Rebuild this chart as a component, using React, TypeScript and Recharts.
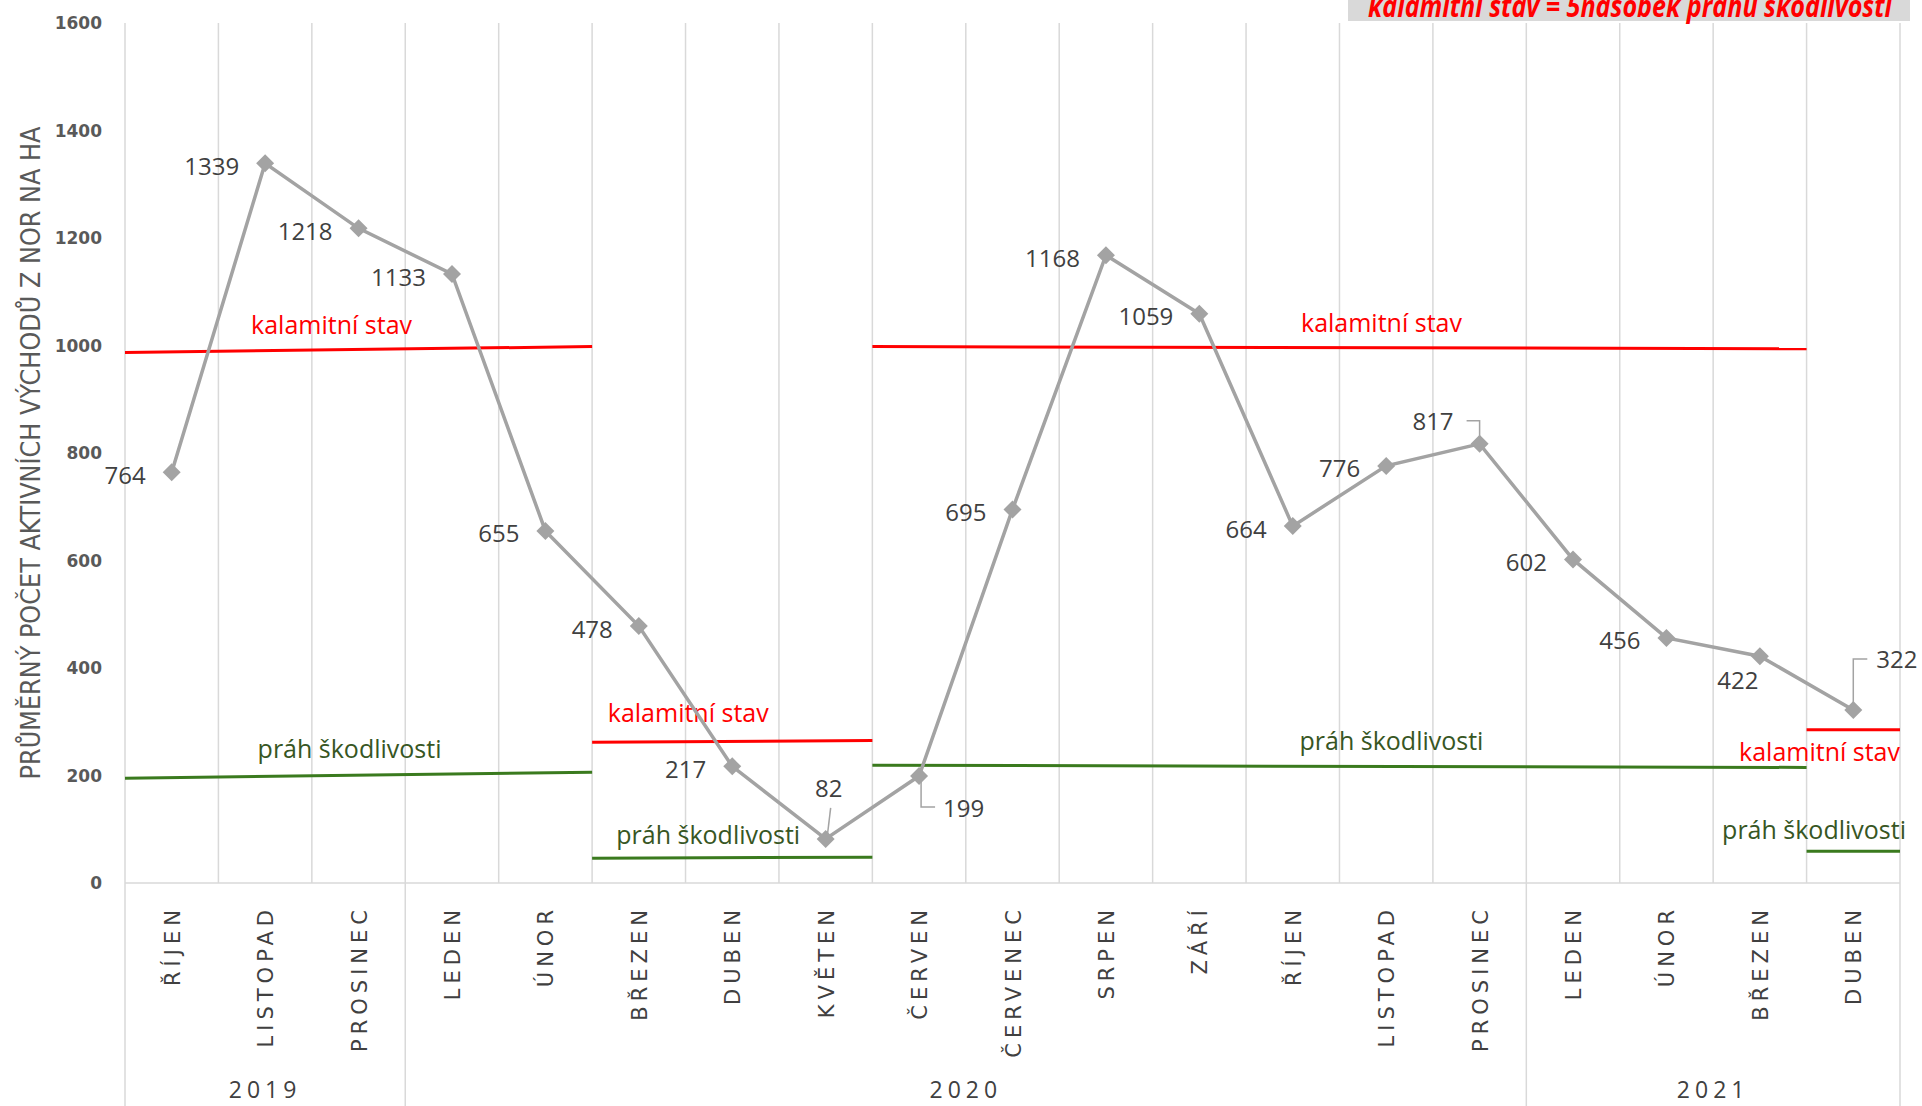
import React from "react";
import { LineChart, Line, XAxis, YAxis, ReferenceLine, LabelList } from "recharts";

// měsíce na ose x (říjen 2019 – duben 2021)
const months = [
    "ŘÍJEN", "LISTOPAD", "PROSINEC",
    "LEDEN", "ÚNOR", "BŘEZEN", "DUBEN", "KVĚTEN", "ČERVEN", "ČERVENEC", "SRPEN", "ZÁŘÍ", "ŘÍJEN", "LISTOPAD", "PROSINEC",
    "LEDEN", "ÚNOR", "BŘEZEN", "DUBEN",
];

// průměrný počet aktivních východů z nor na ha
const nory = [764, 1339, 1218, 1133, 655, 478, 217, 82, 199, 695, 1168, 1059, 664, 776, 817, 602, 456, 422, 322];

const years = ["2019", "2020", "2021"];
const yearSpans = [[0, 3], [3, 15], [15, 19]];

const yTicks = [0, 200, 400, 600, 800, 1000, 1200, 1400, 1600];

// úseky prahových čar (index měsíce od–do)
const thresholdSpans = [[0, 5], [5, 8], [8, 18], [18, 19]];
const kalamitaFrom = [987, 262, 998, 285];
const kalamitaTo = [998, 265, 994, 285];
const prahFrom = [195, 46, 219, 59];
const prahTo = [206, 48, 215, 59];

// každý měsíc sedí uprostřed svého pásma na číselné ose 0..19
const data = months.map((month, i) => ({ pos: i + 0.5, month, nory: nory[i] }));
const monthTicks = data.map((d) => d.pos);
const yearTicks = yearSpans.map(([s, e]) => (s + e) / 2);
const boundaries = Array.from({ length: months.length + 1 }, (_, i) => i);

const W = 1922;
const H = 1106;
const MARGIN = { top: 23, right: 22, bottom: 0, left: 0 };
const Y_AXIS_W = 125;
const BAND = (W - MARGIN.right - MARGIN.left - Y_AXIS_W) / months.length;

const RED = "#ff0000";
const GREEN_LINE = "#3a7a1e";
const GREEN_TEXT = "#375623";
const GRID = "#d9d9d9";
const SERIES = "#a3a3a3";
const TEXT = "#404040";

// umístění popisků hodnot (styl, ne data)
type Placement = { anchor: "start" | "middle" | "end"; dx: number; dy: number; leader?: number[][] };
const defaultPlacement: Placement = { anchor: "end", dx: -26, dy: 2 };
const specialPlacement: Record<number, Placement> = {
    7: { anchor: "middle", dx: 3, dy: -51, leader: [[5, -31], [2, -6]] },
    8: { anchor: "start", dx: 24, dy: 31, leader: [[2, 5], [2, 31], [16, 31]] },
    14: { anchor: "end", dx: -26, dy: -23, leader: [[0, -6], [0, -23], [-13, -23]] },
    17: { anchor: "middle", dx: -22, dy: 23 },
    18: { anchor: "start", dx: 23, dy: -51, leader: [[0, -6], [0, -51], [14, -51]] },
};

const kalLabel = [
    { anchor: "middle", dx: -27, dy: -26 },
    { anchor: "middle", dx: -44, dy: -29 },
    { anchor: "middle", dx: 42, dy: -26 },
    { anchor: "end", dx: 0, dy: 21 },
];
const prahLabel = [
    { anchor: "middle", dx: -9, dy: -27 },
    { anchor: "middle", dx: -24, dy: -24 },
    { anchor: "middle", dx: 52, dy: -26 },
    { anchor: "end", dx: 6, dy: -22 },
];

const renderDiamond = (props: any) => {
    const { cx, cy, index } = props;
    if (cx == null || cy == null) return <g key={`d-${index}`} />;
    const r = 9;
    return (
        <path
            key={`d-${index}`}
            d={`M${cx},${cy - r}L${cx + r},${cy}L${cx},${cy + r}L${cx - r},${cy}Z`}
            fill={SERIES}
        />
    );
};

const renderValueLabel = (props: any) => {
    const { x, y, value, index } = props;
    const p = specialPlacement[index] ?? defaultPlacement;
    return (
        <g key={`l-${index}`}>
            {p.leader && (
                <polyline
                    points={p.leader.map(([a, b]) => `${x + a},${y + b}`).join(" ")}
                    fill="none"
                    stroke={SERIES}
                    strokeWidth={1.5}
                />
            )}
            <text
                x={x + p.dx}
                y={y + p.dy}
                textAnchor={p.anchor}
                dominantBaseline="central"
                fontFamily="'Open Sans', sans-serif"
                fontSize={24}
                fill={TEXT}
            >
                {value}
            </text>
        </g>
    );
};

const thresholdLabel = (text: string, color: string, cfg: any) => (props: any) => {
    const vb = props.viewBox || {};
    const midX = vb.x + vb.width / 2;
    const midY = vb.y + vb.height / 2;
    const x = cfg.anchor === "end" ? vb.x + vb.width + cfg.dx : midX + cfg.dx;
    return (
        <text
            x={x}
            y={midY + cfg.dy}
            textAnchor={cfg.anchor}
            dominantBaseline="central"
            fontFamily="'Open Sans', sans-serif"
            fontSize={25}
            fill={color}
        >
            {text}
        </text>
    );
};

const isYearStart = (i: number) => yearSpans.some(([s]) => s === i);

const MonthTick = (props: any) => {
    const { x, y, payload } = props;
    const i = Math.floor(payload.value);
    const half = BAND / 2;
    const axisY = y - 8;
    const top = axisY + 22;
    const tx = x + 8;
    return (
        <g>
            <text
                x={tx}
                y={top}
                transform={`rotate(-90, ${tx}, ${top})`}
                textAnchor="end"
                fontFamily="'DejaVu Sans', sans-serif"
                fontSize={21}
                letterSpacing={5}
                fill={TEXT}
            >
                {months[i]}
            </text>
            {isYearStart(i) && (
                <line x1={x - half} x2={x - half} y1={axisY} y2={H} stroke={GRID} strokeWidth={1.5} />
            )}
            {i === months.length - 1 && (
                <line x1={x + half} x2={x + half} y1={axisY} y2={H} stroke={GRID} strokeWidth={1.5} />
            )}
        </g>
    );
};

const YearTick = (props: any) => {
    const { x, y, payload } = props;
    const i = yearTicks.indexOf(payload.value);
    return (
        <text
            x={x}
            y={y + 27}
            textAnchor="middle"
            fontFamily="'Open Sans', sans-serif"
            fontSize={23}
            letterSpacing={5}
            fill={TEXT}
        >
            {years[i] ?? ""}
        </text>
    );
};

export default function App() {
    return (
        <div style={{ position: "absolute", left: 0, top: 0, width: W, height: H, background: "#fff", overflow: "hidden" }}>
            <LineChart width={W} height={H} data={data} margin={MARGIN}>
                <XAxis
                    dataKey="pos"
                    type="number"
                    domain={[0, months.length]}
                    allowDataOverflow
                    ticks={monthTicks}
                    interval={0}
                    height={180}
                    axisLine={{ stroke: GRID, strokeWidth: 1.5 }}
                    tickLine={false}
                    tick={<MonthTick />}
                />
                <XAxis
                    xAxisId="yr"
                    dataKey="pos"
                    type="number"
                    domain={[0, months.length]}
                    allowDataOverflow
                    ticks={yearTicks}
                    interval={0}
                    height={43}
                    axisLine={false}
                    tickLine={false}
                    tick={<YearTick />}
                />
                <YAxis
                    width={Y_AXIS_W}
                    domain={[0, 1600]}
                    ticks={yTicks}
                    interval={0}
                    axisLine={false}
                    tickLine={false}
                    tickMargin={17}
                    tick={{ fill: "#595959", fontSize: 17, fontWeight: "bold", fontFamily: "'DejaVu Sans', sans-serif" }}
                />

                {boundaries.map((b) => (
                    <ReferenceLine key={`g-${b}`} x={b} stroke={GRID} strokeWidth={1.5} ifOverflow="visible" />
                ))}

                {thresholdSpans.map(([s, e], i) => (
                    <ReferenceLine
                        key={`k-${i}`}
                        segment={[{ x: s, y: kalamitaFrom[i] }, { x: e, y: kalamitaTo[i] }]}
                        stroke={RED}
                        strokeWidth={3}
                        ifOverflow="visible"
                        label={thresholdLabel("kalamitní stav", RED, kalLabel[i])}
                    />
                ))}
                {thresholdSpans.map(([s, e], i) => (
                    <ReferenceLine
                        key={`p-${i}`}
                        segment={[{ x: s, y: prahFrom[i] }, { x: e, y: prahTo[i] }]}
                        stroke={GREEN_LINE}
                        strokeWidth={3}
                        ifOverflow="visible"
                        label={thresholdLabel("práh škodlivosti", GREEN_TEXT, prahLabel[i])}
                    />
                ))}

                <Line
                    dataKey="nory"
                    stroke={SERIES}
                    strokeWidth={3.5}
                    dot={renderDiamond}
                    activeDot={false}
                    isAnimationActive={false}
                >
                    <LabelList dataKey="nory" content={renderValueLabel} />
                </Line>
            </LineChart>

            <svg
                width={W}
                height={H}
                style={{ position: "absolute", left: 0, top: 0, pointerEvents: "none" }}
            >
                <rect x={1348} y={0} width={562} height={21} fill="#d9d9d9" />
                <text
                    x={1368}
                    y={17}
                    textLength={524}
                    lengthAdjust="spacingAndGlyphs"
                    fontFamily="'Open Sans', sans-serif"
                    fontStyle="italic"
                    fontWeight="bold"
                    fontSize={30}
                    fill={RED}
                >
                    kalamitní stav = 5násobek práhu škodlivosti
                </text>
                <text
                    x={40}
                    y={453}
                    transform="rotate(-90, 40, 453)"
                    textAnchor="middle"
                    textLength={653}
                    lengthAdjust="spacingAndGlyphs"
                    fontFamily="'Liberation Sans Narrow', 'DejaVu Sans Condensed', sans-serif"
                    fontSize={26}
                    fill="#595959"
                >
                    PRŮMĚRNÝ POČET AKTIVNÍCH VÝCHODŮ Z NOR NA HA
                </text>
            </svg>
        </div>
    );
}
